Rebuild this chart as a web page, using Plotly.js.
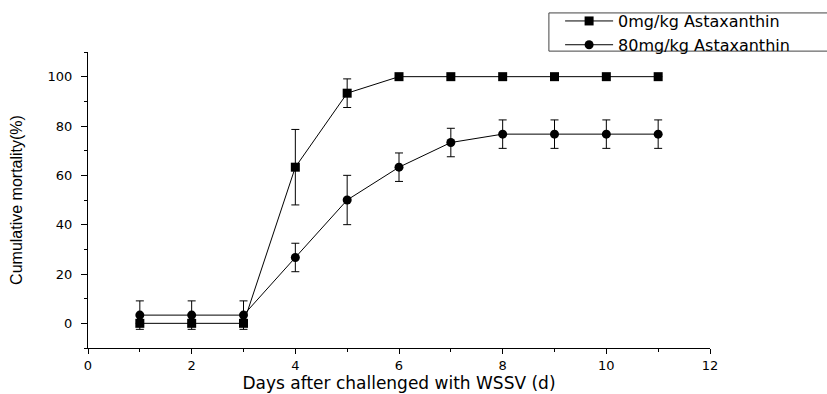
<!DOCTYPE html>
<html>
<head>
<meta charset="utf-8">
<script src="https://cdn.plot.ly/plotly-3.0.1.min.js"></script>
<style>html,body{margin:0;padding:0;background:#fff;}#chart{width:827px;height:394px;}</style>
</head>
<body>
<div id="chart"></div>
<script>
const days = [1, 2, 3, 4, 5, 6, 7, 8, 9, 10, 11];
const seriesNames = ["0mg/kg Astaxanthin", "80mg/kg Astaxanthin"];
const mortality0 = [0, 0, 0, 63.3, 93.3, 100, 100, 100, 100, 100, 100];
const error0 = [0, 0, 0, 15.3, 5.8, 0, 0, 0, 0, 0, 0];
const mortality80 = [3.33, 3.33, 3.33, 26.7, 50, 63.3, 73.3, 76.7, 76.7, 76.7, 76.7];
const error80 = [5.77, 5.77, 5.77, 5.77, 10, 5.77, 5.77, 5.77, 5.77, 5.77, 5.77];
const xTickVals = [0, 2, 4, 6, 8, 10, 12];
const yTickVals = [0, 20, 40, 60, 80, 100];

function makeTrace(name, y, err, symbol) {
  return {
    x: days, y: y, name: name, type: 'scatter', mode: 'lines+markers',
    line: {color: 'black', width: 1},
    marker: {symbol: symbol, size: 9, color: 'black'},
    error_y: {type: 'data', array: err, visible: true, color: 'black', thickness: 1, width: 4}
  };
}

const data = [
  makeTrace(seriesNames[0], mortality0, error0, 'square'),
  makeTrace(seriesNames[1], mortality80, error80, 'circle')
];

const tickFont = {family: 'DejaVu Sans', size: 13, color: 'black'};
const layout = {
  width: 827, height: 394,
  margin: {l: 88, r: 117, t: 52, b: 46, autoexpand: false},
  paper_bgcolor: 'white', plot_bgcolor: 'white',
  showlegend: true,
  legend: {
    x: 0.759, y: 1.162, xanchor: 'left', yanchor: 'top',
    bgcolor: 'rgba(0,0,0,0)', borderwidth: 0,
    font: {family: 'DejaVu Sans', size: 16, color: 'black'},
    itemwidth: 48, tracegroupgap: 0
  },
  shapes: [{
    type: 'rect', xref: 'paper', yref: 'paper',
    x0: 0.741, x1: 1.25, y0: 1.003, y1: 1.132,
    line: {color: '#444', width: 1}, fillcolor: 'rgba(0,0,0,0)', layer: 'below'
  }],
  xaxis: {
    range: [0, 12], tickvals: xTickVals, ticktext: xTickVals.map(String),
    showgrid: false, zeroline: false, showline: true, linecolor: 'black', linewidth: 1,
    ticks: 'outside', ticklen: 5, tickcolor: 'black', tickfont: tickFont,
    minor: {dtick: 1, tick0: 0, ticks: 'outside', ticklen: 3, tickcolor: 'black', showgrid: false},
    title: {text: 'Days after challenged with WSSV (d)', font: {family: 'DejaVu Sans', size: 17, color: 'black'}, standoff: 5}
  },
  yaxis: {
    range: [-10, 110], tickvals: yTickVals, ticktext: yTickVals.map(String),
    showgrid: false, zeroline: false, showline: true, linecolor: 'black', linewidth: 1,
    ticks: 'outside', ticklen: 6, tickcolor: 'black', tickfont: tickFont,
    ticklabelstandoff: 6,
    minor: {dtick: 10, tick0: 0, ticks: 'outside', ticklen: 3, tickcolor: 'black', showgrid: false},
    title: {text: 'Cumulative mortality(%)', font: {family: 'Liberation Sans', size: 16, color: 'black'}, standoff: 20}
  }
};

Plotly.newPlot('chart', data, layout, {displayModeBar: false, staticPlot: true});
</script>
</body>
</html>
